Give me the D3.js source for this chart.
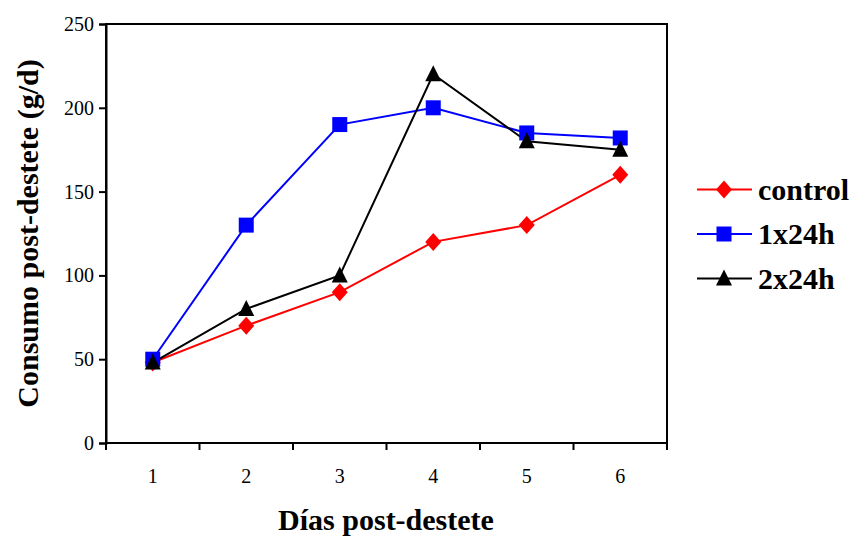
<!DOCTYPE html>
<html><head><meta charset="utf-8">
<script src="https://cdn.jsdelivr.net/npm/d3@7"></script>
<style>body{margin:0;background:#fff}svg{display:block}</style>
</head><body>
<script>
const days = ["1","2","3","4","5","6"];
const control = [48, 70, 90, 120, 130, 160];
const h1x24 = [50, 130, 190, 200, 185, 182];
const h2x24 = [48, 80, 100, 220, 180, 175];
const yTicks = [0, 50, 100, 150, 200, 250];
const seriesNames = ["control", "1x24h", "2x24h"];
const seriesColors = ["#ff0000", "#0000ff", "#000000"];

const W = 854, H = 537;
const m = {left: 106, right: 667, top: 24, bottom: 443};
const svg = d3.select("body").append("svg").attr("width", W).attr("height", H);
const font = "Liberation Serif, Times New Roman, serif";

const x = d3.scaleBand().domain(days).range([m.left, m.right]);
const y = d3.scaleLinear().domain([0, 250]).range([m.bottom, m.top]);

// custom marker shapes
const diamond = {draw(c){ c.moveTo(0,-9); c.lineTo(8,0); c.lineTo(0,9); c.lineTo(-8,0); c.closePath(); }};
const square = {draw(c){ c.rect(-7.5,-7.5,15,15); }};
const triangle = {draw(c){ c.moveTo(0,-9); c.lineTo(8,7); c.lineTo(-8,7); c.closePath(); }};
const symbols = [diamond, square, triangle];

// frame
svg.append("rect").attr("x", m.left).attr("y", m.top).attr("width", m.right - m.left).attr("height", m.bottom - m.top)
  .attr("fill", "none").attr("stroke", "#000").attr("stroke-width", 2);

// y axis
const ya = svg.append("g").attr("transform", `translate(${m.left},0)`)
  .call(d3.axisLeft(y).tickValues(yTicks).tickSize(7).tickPadding(5));
ya.select(".domain").attr("stroke-width", 2);
ya.selectAll(".tick line").attr("stroke-width", 2);
ya.selectAll("text").style("font-family", font).style("font-size", "20px").attr("fill", "#000");

// x axis with ticks at band boundaries
const xa = svg.append("g").attr("transform", `translate(0,${m.bottom})`)
  .call(d3.axisBottom(x).tickSize(0).tickPadding(26));
xa.select(".domain").remove();
xa.selectAll("text").style("font-family", font).style("font-size", "20px").attr("fill", "#000");
const bounds = days.map(d => x(d)).concat([m.right]);
svg.append("g").selectAll("line").data(bounds).join("line")
  .attr("x1", d => d).attr("x2", d => d).attr("y1", m.bottom).attr("y2", m.bottom + 7)
  .attr("stroke", "#000").attr("stroke-width", 2);

// series
const data = [control, h1x24, h2x24];
const cx = d => x(d) + x.bandwidth() / 2;
const line = d3.line().x((v, i) => cx(days[i])).y(v => y(v));
data.forEach((vals, s) => {
  svg.append("path").datum(vals).attr("d", line).attr("fill", "none")
    .attr("stroke", seriesColors[s]).attr("stroke-width", 2);
});
data.forEach((vals, s) => {
  svg.append("g").selectAll("path").data(vals).join("path")
    .attr("transform", (v, i) => `translate(${cx(days[i])},${y(v)})`)
    .attr("d", d3.symbol().type(symbols[s]))
    .attr("fill", seriesColors[s]);
});

// titles
svg.append("text").attr("x", 386).attr("y", 530).attr("text-anchor", "middle")
  .style("font-family", font).attr("font-weight", "bold").style("font-size", "30px").text("Días post-destete");
svg.append("text").attr("transform", `translate(38,${(m.top + m.bottom) / 2}) rotate(-90)`).attr("text-anchor", "middle")
  .style("font-family", font).attr("font-weight", "bold").style("font-size", "30px").text("Consumo post-destete (g/d)");

// legend
const leg = svg.append("g");
seriesNames.forEach((n, i) => {
  const ly = 189.5 + i * 44.5;
  leg.append("line").attr("x1", 697).attr("x2", 752).attr("y1", ly).attr("y2", ly)
    .attr("stroke", seriesColors[i]).attr("stroke-width", 2);
  leg.append("path").attr("transform", `translate(724,${ly})`)
    .attr("d", d3.symbol().type(symbols[i])).attr("fill", seriesColors[i]);
  leg.append("text").attr("x", 758).attr("y", ly + 10).style("font-family", font).attr("font-weight", "bold")
    .style("font-size", "30px").text(n);
});
</script>
</body></html>
